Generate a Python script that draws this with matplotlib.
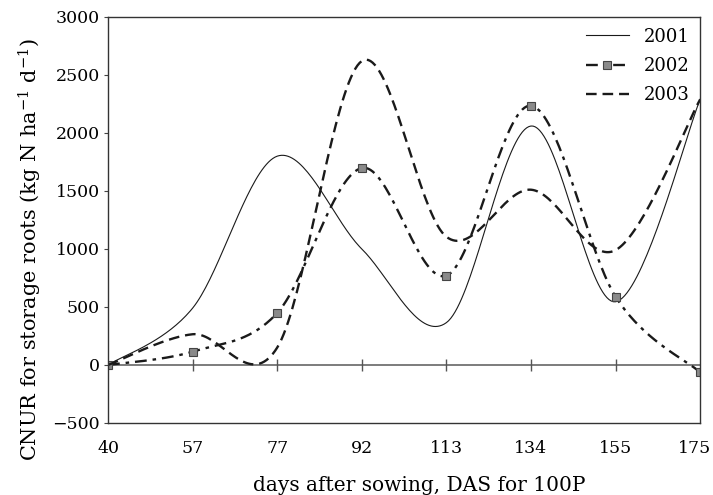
import numpy as np
import matplotlib
matplotlib.use("Agg")
import matplotlib.pyplot as plt
import matplotlib.transforms as mtransforms

# days after sowing (categories, equally spaced on the chart)
das = ["40", "57", "77", "92", "113", "134", "155", "175"]

# CNUR for storage roots, kg N ha-1 d-1
cnur_2001 = [0, 490, 1800, 1000, 365, 2060, 545, 2290]
cnur_2002 = [0, 115, 448, 1698, 770, 2235, 589, -63]
cnur_2003 = [0, 265, 150, 2620, 1105, 1511, 990, 2290]

plt.rcParams["font.family"] = ["DejaVu Serif"]
plt.rcParams["mathtext.fontset"] = "dejavuserif"


def smooth(y, n=40):
    # Catmull-Rom style bezier smoothing, like a spreadsheet "smoothed line"
    y = np.asarray(y, dtype=float)
    x = np.arange(len(y), dtype=float)
    px = np.concatenate([[x[0]], x, [x[-1]]])
    py = np.concatenate([[y[0]], y, [y[-1]]])
    xs, ys = [], []
    t = np.linspace(0, 1, n)
    for i in range(1, len(px) - 2):
        p0 = np.array([px[i], py[i]])
        p3 = np.array([px[i + 1], py[i + 1]])
        c1 = p0 + (np.array([px[i + 1], py[i + 1]]) - np.array([px[i - 1], py[i - 1]])) / 6
        c2 = p3 - (np.array([px[i + 2], py[i + 2]]) - np.array([px[i], py[i]])) / 6
        b = ((1 - t) ** 3)[:, None] * p0 + (3 * (1 - t) ** 2 * t)[:, None] * c1 \
            + (3 * (1 - t) * t ** 2)[:, None] * c2 + (t ** 3)[:, None] * p3
        xs.append(b[:, 0])
        ys.append(b[:, 1])
    return np.concatenate(xs), np.concatenate(ys)


fig = plt.figure(figsize=(7.13, 4.95), dpi=100)
ax = fig.add_axes([0.1515, 0.1455, 0.8305, 0.8202])

idx = np.arange(len(das))
ink = "#1a1a1a"
dashdot = (0, (5, 2.5, 1.5, 2.5))

x1, y1 = smooth(cnur_2001)
ax.plot(x1, y1, color=ink, lw=0.8, label="2001")

x2, y2 = smooth(cnur_2002)
ax.plot(x2, y2, color=ink, lw=1.7, ls=dashdot)
ax.plot(idx, cnur_2002, ls="none", marker="s", ms=6, mfc="#8a8a8a", mec="#444444", mew=0.8)
# legend proxy for 2002
ax.plot([], [], color=ink, lw=1.7, ls=dashdot, marker="s", ms=6,
        mfc="#8a8a8a", mec="#444444", mew=0.8, label="2002")

x3, y3 = smooth(cnur_2003)
ax.plot(x3, y3, color=ink, lw=1.7, ls=(0, (4.5, 2.5)), label="2003")

# zero line with tick marks
ax.axhline(0, color="#666666", lw=1.2, zorder=1)
ax.plot(idx[1:-1], np.zeros(len(idx) - 2), ls="none", marker="|", ms=8, mew=1.0,
        color="#555555", zorder=1)

ax.set_xlim(0, len(das) - 1)
ax.set_ylim(-500, 3000)
ax.set_xticks(idx)
ax.set_xticklabels(das)
ax.set_yticks(np.arange(-500, 3001, 500))
ax.set_yticklabels([str(v).replace("-", "\u2212") for v in range(-500, 3001, 500)])
ax.tick_params(axis="x", length=0, pad=12, labelsize=12.5)
ax.tick_params(axis="y", length=3, width=0.8, pad=3, labelsize=12.5, color="#444444")

# last x label sits right at the figure edge; nudge it in a little
last = ax.get_xticklabels()[-1]
last.set_transform(last.get_transform() + mtransforms.ScaledTranslation(-6 / 100, 0, fig.dpi_scale_trans))

for s in ax.spines.values():
    s.set_color("#333333")
    s.set_linewidth(1.0)

ax.set_xlabel("days after sowing, DAS for 100P", fontsize=14.5)
ax.xaxis.set_label_coords(0.525, -0.131)
fig.text(0.042, 0.495, "CNUR for storage roots (kg N ha$^{-1}$ d$^{-1}$)",
         rotation=90, va="center", ha="center", fontsize=15)

ax.legend(loc="upper right", frameon=False, fontsize=13, handlelength=2.4,
          labelspacing=0.62, borderaxespad=0.2, handletextpad=0.8)

fig.savefig("out.png", dpi=100)
